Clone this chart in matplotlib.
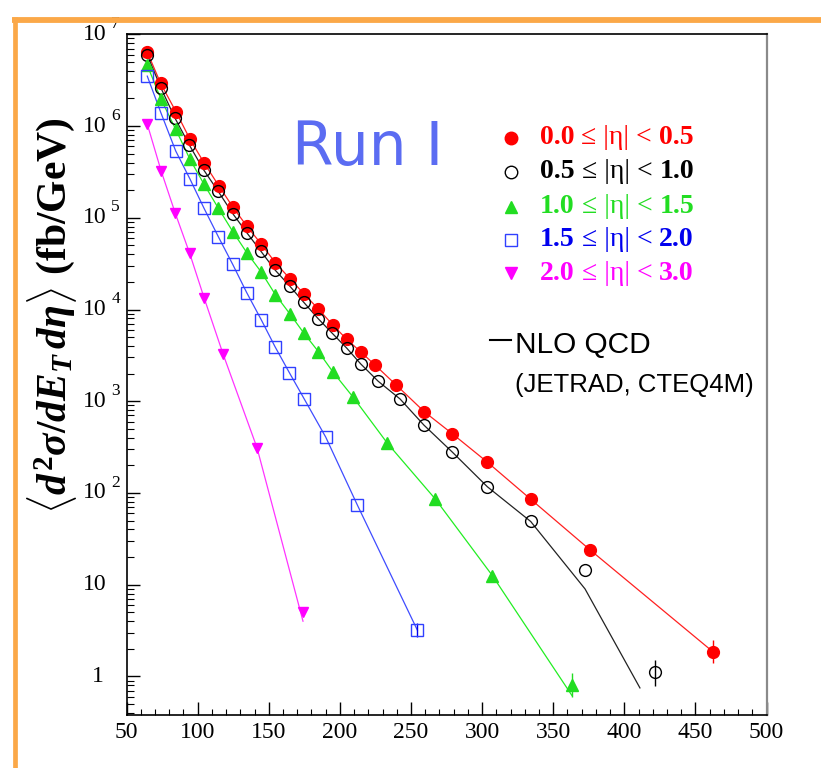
import matplotlib.pyplot as plt
import matplotlib.lines as mlines
import numpy as np

plt.rcParams["mathtext.fontset"] = "custom"
plt.rcParams["mathtext.rm"] = "Liberation Serif:bold"
plt.rcParams["mathtext.it"] = "Liberation Serif:italic:bold"
plt.rcParams["mathtext.bf"] = "Liberation Serif:bold"

SERIF = ["Liberation Serif", "DejaVu Serif"]
SANS = ["Liberation Sans", "DejaVu Sans"]

# --- data ---
et_0 = [64.6, 74.0, 84.8, 94.6, 104.7, 114.8, 124.9, 134.5, 144.8, 154.6, 165.2, 174.8,
        184.7, 195.0, 204.8, 214.9, 224.9, 239.5, 259.2, 279.1, 303.7, 334.4, 375.9, 462.3]
xs_0 = [6.4e6, 2.92e6, 1.43e6, 7.2e5, 3.93e5, 2.24e5, 1.30e5, 8.15e4, 5.15e4, 3.25e4, 2.14e4, 1.48e4,
        1.02e4, 6.8e3, 4.74e3, 3.43e3, 2.47e3, 1.51e3, 773, 442, 217, 85, 24, 1.86]

et_1 = [64.6, 74.3, 84.1, 94.2, 104.3, 114.3, 124.7, 134.5, 144.6, 154.4, 164.8, 174.6,
        184.7, 194.7, 204.8, 214.7, 227.0, 242.3, 259.2, 279.1, 303.7, 334.2, 372.4, 421.6]
xs_1 = [5.95e6, 2.58e6, 1.22e6, 6.2e5, 3.32e5, 1.96e5, 1.11e5, 6.9e4, 4.3e4, 2.7e4, 1.8e4, 1.2e4,
        7.97e3, 5.5e3, 3.8e3, 2.55e3, 1.65e3, 1.06e3, 548, 279, 117, 48.9, 14.5, 1.12]

et_2 = [64.6, 74.3, 84.6, 94.6, 104.5, 114.6, 124.9, 134.7, 144.8, 154.7, 164.9, 174.8,
        184.9, 195.0, 209.5, 233.4, 267.1, 307.2, 363.2]
xs_2 = [4.6e6, 1.96e6, 9.2e5, 4.35e5, 2.32e5, 1.27e5, 7.0e4, 4.14e4, 2.55e4, 1.45e4, 8.95e3, 5.5e3,
        3.48e3, 2.1e3, 1.1e3, 349, 86, 12.6, 0.80]

et_3 = [64.6, 74.3, 84.6, 94.6, 104.5, 114.6, 124.7, 134.5, 144.8, 154.4, 164.5, 174.8, 190.1, 212.3, 254.5]
xs_3 = [3.5e6, 1.38e6, 5.35e5, 2.65e5, 1.27e5, 6.2e4, 3.1e4, 1.53e4, 7.7e3, 3.94e3, 2.05e3, 1.07e3,
        406, 74, 3.2]

et_4 = [64.6, 74.3, 84.3, 94.4, 104.5, 117.9, 141.8, 174.1]
xs_4 = [1.05e6, 3.26e5, 1.12e5, 4.1e4, 1.35e4, 3.27e3, 310, 5.0]

# error bars on the last point of each bin (low, high)
err_last = [(0.45, 0.65), (0.33, 0.40), (0.2, 0.3), (0.5, 0.6), (0.0, 0.0)]

# NLO QCD curves: follow the data, differ only at the tail
nlo_et = [et_0, et_1[:-2] + [372.4, 411.0], et_2, et_3, et_4]
nlo_xs = [xs_0, xs_1[:-2] + [9.0, 0.75], xs_2[:-1] + [0.62], xs_3, xs_4[:-1] + [4.0]]

bins = ["0.0", "0.5", "1.0", "1.5", "2.0", "3.0"]
text_colors = ["#ff0000", "#000000", "#22dd22", "#0000ee", "#ff00ff"]
line_colors = ["#ff2020", "#222222", "#22ee22", "#3f4cff", "#ff33ff"]
markers = ["o", "o", "^", "s", "v"]
filled = [True, False, True, False, True]
msizes = [8.5, 8.5, 8.5, 8.5, 7.5]

ets = [et_0, et_1, et_2, et_3, et_4]
xss = [xs_0, xs_1, xs_2, xs_3, xs_4]

fig = plt.figure(figsize=(8.21, 7.68), dpi=100)
ax = fig.add_axes([126.5 / 821, 53 / 768, 640 / 821, 680.7 / 768])

for i in range(5):
    ax.plot(nlo_et[i], nlo_xs[i], color=line_colors[i], lw=0.9, zorder=2)
    yerr = np.zeros((2, len(xss[i])))
    yerr[0, -1], yerr[1, -1] = err_last[i]
    face = text_colors[i] if filled[i] else "none"
    ax.errorbar(ets[i], xss[i], yerr=yerr, fmt=markers[i], ms=msizes[i],
                mfc=face, mec=text_colors[i] if i != 3 else "#3040ff", mew=1.0,
                ecolor=text_colors[i], elinewidth=1.0, capsize=0, zorder=3)

ax.set_yscale("log")
ax.set_xlim(50, 500)
ax.set_ylim(0.38, 1e7)

ax.set_xticks(np.arange(50, 501, 50))
ax.set_xticks(np.arange(50, 501, 10), minor=True)
ax.tick_params(axis="x", which="major", direction="in", length=9.5, width=1.0, top=False,
               labelsize=17, pad=5)
ax.tick_params(axis="x", which="minor", direction="in", length=4.5, width=0.8, top=False)
ax.tick_params(axis="y", which="major", direction="in", length=9.5, width=1.0, right=False,
               labelleft=False)
ax.tick_params(axis="y", which="minor", direction="in", length=5, width=0.8, right=False,
               labelleft=False)
for lab in ax.get_xticklabels():
    lab.set_family(SERIF)

for side in ["left", "bottom", "top"]:
    ax.spines[side].set_linewidth(1.2)
ax.spines["right"].set_color("#8a8a8a")
ax.spines["right"].set_linewidth(1.6)

# y tick labels, ROOT style "10 ^n"
ytr = ax.get_yaxis_transform()
xl = (107 - 126.5) / 640
for k in range(2, 8):
    ax.annotate("10", (xl, 10.0 ** k), xycoords=ytr, ha="right", va="center",
                fontsize=17, family=SERIF, annotation_clip=False)
    ax.annotate(str(k), (xl, 10.0 ** k), xycoords=ytr, xytext=(3, 7.5),
                textcoords="offset points", ha="left", va="center",
                fontsize=12.5, family=SERIF, annotation_clip=False)
ax.annotate("10", (xl, 10.0), xycoords=ytr, ha="right", va="center",
            fontsize=17, family=SERIF, annotation_clip=False)
ax.annotate("1", ((104 - 126.5) / 640, 1.0), xycoords=ytr, ha="right", va="center",
            fontsize=17, family=SERIF, annotation_clip=False)

fig.text(52 / 821, 1 - 316 / 768,
         r"$\langle d^{2}\sigma/dE_{T}\,d\eta\rangle$ (fb/GeV)",
         rotation=90, ha="center", va="center", fontsize=30, fontweight="bold",
         family=SERIF)

# Run I
ax.text((368 - 126.5) / 640, (715 - 148) / 680.7, "Run I", transform=ax.transAxes,
        ha="center", va="center", fontsize=43, color="#5b6cf2", family="DejaVu Sans")

# legend, drawn by hand
leg_y = [138, 171.7, 206.7, 240, 273]
for i in range(5):
    yy = (715 - leg_y[i]) / 680.7
    face = text_colors[i] if filled[i] else "none"
    ax.plot([(510.7 - 126.5) / 640], [yy], markers[i], ms=msizes[i] + 0.5, mfc=face,
            mec=text_colors[i] if i != 3 else "#3040ff", mew=1.0,
            transform=ax.transAxes, clip_on=False)
    t = ax.text((540 - 126.5) / 640, yy, bins[i], transform=ax.transAxes, ha="left",
                va="center", fontsize=20, fontweight="bold", color=text_colors[i], family=SERIF)
    t = ax.annotate(" \u2264 |\u03b7| < ", (1, 0), xycoords=t, ha="left", va="bottom",
                    fontsize=20, color=text_colors[i], family=SERIF)
    ax.annotate(bins[i + 1], (1, 0), xycoords=t, ha="left", va="bottom",
                fontsize=20, fontweight="bold", color=text_colors[i], family=SERIF)

# NLO QCD label
yq = (715 - 345) / 680.7
ax.plot([(490 - 126.5) / 640, (511 - 126.5) / 640], [(715 - 340) / 680.7] * 2, color="black",
        lw=1.5, transform=ax.transAxes, clip_on=False)
ax.text((515 - 126.5) / 640, yq, "NLO QCD", transform=ax.transAxes, ha="left", va="center",
        fontsize=21.5, family=SANS)
ax.text((515 - 126.5) / 640, (715 - 385) / 680.7, "(JETRAD, CTEQ4M)", transform=ax.transAxes,
        ha="left", va="center", fontsize=18.5, family=SANS)

# orange slide frame
orange = "#fba848"
fig.add_artist(mlines.Line2D([12 / 821, 1], [1 - 19.5 / 768] * 2, color=orange, lw=4.2,
                             solid_capstyle="butt"))
fig.add_artist(mlines.Line2D([14.5 / 821] * 2, [0, 1 - 17 / 768], color=orange, lw=3.4,
                             solid_capstyle="butt"))

fig.savefig("out.png", dpi=100)
